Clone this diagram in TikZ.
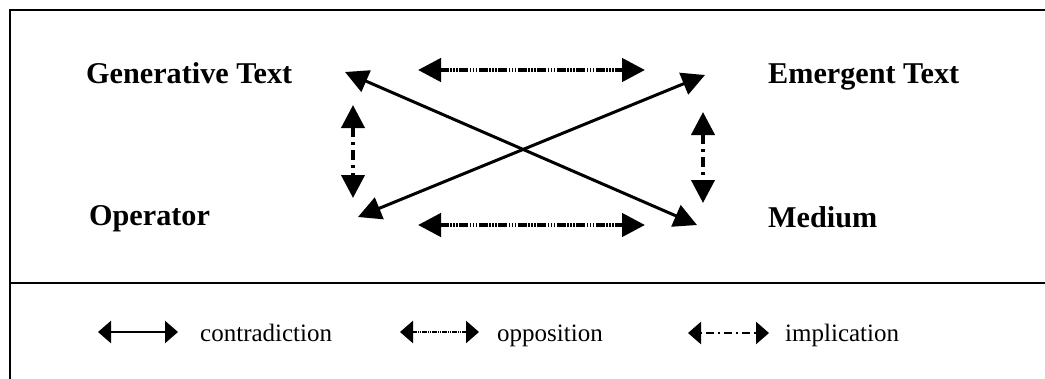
\documentclass[tikz,border=0pt]{standalone}
\usepackage{fontspec}
\setmainfont{Liberation Serif}
\usetikzlibrary{arrows.meta}
\begin{document}
\begin{tikzpicture}[x=1pt,y=-1pt,
  lbl/.style={font=\fontsize{30.2}{32}\selectfont\bfseries, anchor=base west, inner sep=0pt},
  leg/.style={font=\fontsize{25}{28}\selectfont, anchor=base west, inner sep=0pt},
  bigtip/.style={{Triangle[length=23pt,width=23pt]}-{Triangle[length=23pt,width=23pt]}},
  smalltip/.style={{Triangle[length=13pt,width=22pt]}-{Triangle[length=13pt,width=22pt]}},
  contra/.style={bigtip, line width=3pt},
  oppo/.style={bigtip, line width=4.5pt, dash pattern=on 9pt off 1.5pt on 1.5pt off 1.5pt on 1.5pt off 1.5pt on 1.5pt off 1.5pt},
  impl/.style={bigtip, line width=4pt, dash pattern=on 10pt off 5pt on 3pt off 5pt},
  lcontra/.style={smalltip, line width=2.5pt},
  loppo/.style={smalltip, line width=2.5pt, dash pattern=on 5pt off 1pt on 1pt off 1pt on 1pt off 1pt},
  limpl/.style={smalltip, line width=2.5pt, dash pattern=on 2pt off 4pt on 8pt off 4pt},
  frame/.style={line width=2pt}
]
\clip (0,0) rectangle (1045,378);
\fill[white] (0,0) rectangle (1045,378);
% frame
\coordinate (ftr) at (1060,10);
\coordinate (ftl) at (10,10);
\coordinate (fbl) at (10,390);
\coordinate (fml) at (10,283);
\coordinate (fmr) at (1060,283);
\draw[frame] (ftr) -- (ftl) -- (fbl);
\draw[frame] (fml) -- (fmr);
% labels
\node[lbl] (gen) at (86,83) {Generative Text};
\node[lbl] (eme) at (768,83) {Emergent Text};
\node[lbl] (ope) at (89,225) {Operator};
\node[lbl] (med) at (768,227) {Medium};
% arrow end points
\coordinate (d1a) at (345,72);
\coordinate (d1b) at (697,225);
\coordinate (d2a) at (705,75);
\coordinate (d2b) at (358,217);
\coordinate (hta) at (418,70);
\coordinate (htb) at (645,70);
\coordinate (hba) at (418,225);
\coordinate (hbb) at (645,225);
\coordinate (vla) at (353,105);
\coordinate (vlb) at (353,198);
\coordinate (vra) at (703,112);
\coordinate (vrb) at (703,203);
\draw[contra] (d1a) -- (d1b);
\draw[contra] (d2a) -- (d2b);
\draw[oppo] (hta) -- (htb);
\draw[oppo] (hba) -- (hbb);
\draw[impl] (vla) -- (vlb);
\draw[impl] (vra) -- (vrb);
% legend
\coordinate (l1a) at (98,332);
\coordinate (l1b) at (178,332);
\coordinate (l2a) at (400,332);
\coordinate (l2b) at (479,332);
\coordinate (l3a) at (688,333);
\coordinate (l3b) at (769,333);
\draw[lcontra] (l1a) -- (l1b);
\draw[loppo] (l2a) -- (l2b);
\draw[limpl] (l3a) -- (l3b);
\node[leg] (tcon) at (200,341) {contradiction};
\node[leg] (topp) at (497,341) {opposition};
\node[leg] (timp) at (785,341) {implication};
\end{tikzpicture}
\end{document}
